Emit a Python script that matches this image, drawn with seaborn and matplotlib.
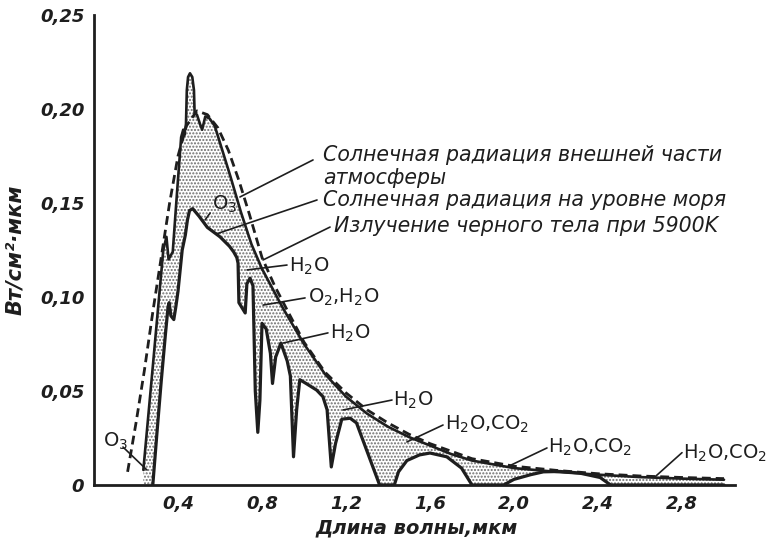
import matplotlib
matplotlib.use("Agg")
import matplotlib.pyplot as plt
import seaborn as sns

# Black-body radiation at 5900 K (dashed), W/cm^2 per micron
bb_wl = [0.16, 0.20, 0.24, 0.28, 0.32, 0.36, 0.40, 0.44, 0.49, 0.54, 0.59, 0.64,
         0.69, 0.74, 0.80, 0.86, 0.92, 1.00, 1.10, 1.20, 1.30, 1.40, 1.50, 1.60,
         1.70, 1.80, 1.90, 2.00, 2.20, 2.40, 2.60, 2.80, 3.00]
bb_val = [0.007, 0.033, 0.061, 0.092, 0.121, 0.150, 0.175, 0.191, 0.199, 0.197,
          0.190, 0.178, 0.162, 0.144, 0.121, 0.106, 0.093, 0.076, 0.060, 0.049,
          0.040, 0.033, 0.027, 0.022, 0.018, 0.014, 0.012, 0.010, 0.0078, 0.006,
          0.0048, 0.0040, 0.0034]

# Solar radiation outside the atmosphere
toa_wl = [0.235, 0.28, 0.33, 0.345, 0.355, 0.375, 0.395, 0.415, 0.425, 0.43,
          0.438, 0.442, 0.448, 0.457, 0.468, 0.476, 0.479, 0.49, 0.505, 0.515,
          0.53, 0.55, 0.575, 0.60, 0.65, 0.70, 0.75, 0.80, 0.90, 1.00, 1.10,
          1.20, 1.30, 1.40, 1.50, 1.60, 1.70, 1.80, 1.90, 2.00, 2.20, 2.40,
          2.60, 2.80, 3.00]
toa_val = [0.008, 0.063, 0.125, 0.132, 0.120, 0.124, 0.155, 0.185, 0.189, 0.186,
           0.192, 0.210, 0.217, 0.219, 0.217, 0.210, 0.198, 0.197, 0.192, 0.189,
           0.196, 0.195, 0.191, 0.182, 0.164, 0.145, 0.128, 0.115, 0.094, 0.075,
           0.059, 0.047, 0.038, 0.031, 0.0255, 0.021, 0.0165, 0.013, 0.011,
           0.009, 0.007, 0.0055, 0.0042, 0.0034, 0.0028]

# Solar radiation at sea level
sea_wl = [0.28, 0.30, 0.32, 0.34, 0.352, 0.358, 0.366, 0.38, 0.39, 0.40, 0.42,
          0.435, 0.445, 0.455, 0.47, 0.50, 0.54, 0.60, 0.645, 0.665, 0.68, 0.686,
          0.69, 0.72, 0.728, 0.743, 0.757, 0.768, 0.78, 0.79, 0.80, 0.82, 0.84,
          0.85, 0.865, 0.89, 0.92, 0.935, 0.95, 0.965, 0.98, 1.01, 1.06, 1.09,
          1.11, 1.13, 1.15, 1.18, 1.22, 1.25, 1.30, 1.35, 1.36, 1.43, 1.45, 1.49,
          1.55, 1.60, 1.68, 1.75, 1.80, 1.95, 2.00, 2.08, 2.14, 2.22, 2.31, 2.41,
          2.46, 3.00]
sea_val = [0.0, 0.028, 0.055, 0.080, 0.094, 0.097, 0.090, 0.088, 0.095, 0.103,
           0.125, 0.133, 0.141, 0.146, 0.147, 0.143, 0.137, 0.132, 0.127, 0.124,
           0.121, 0.118, 0.097, 0.0915, 0.107, 0.110, 0.106, 0.050, 0.028, 0.045,
           0.086, 0.083, 0.070, 0.054, 0.068, 0.0755, 0.066, 0.058, 0.015, 0.040,
           0.056, 0.054, 0.0505, 0.047, 0.040, 0.0096, 0.022, 0.035, 0.0355,
           0.033, 0.018, 0.003, 0.0, 0.0, 0.007, 0.013, 0.016, 0.017, 0.015,
           0.009, 0.0, 0.0, 0.003, 0.0055, 0.007, 0.0072, 0.0064, 0.004, 0.0, 0.0]

x_ticks = [0.2, 0.4, 0.6, 0.8, 1.0, 1.2, 1.4, 1.6, 1.8, 2.0, 2.2, 2.4, 2.6, 2.8, 3.0]
x_tick_labels = ["", "0,4", "", "0,8", "", "1,2", "", "1,6", "", "2,0", "",
                 "2,4", "", "2,8", ""]
y_ticks = [0.0, 0.05, 0.10, 0.15, 0.20, 0.25]
y_tick_labels = ["0", "0,05", "0,10", "0,15", "0,20", "0,25"]

curve_names = ["Солнечная радиация внешней части\nатмосферы",
               "Солнечная радиация на уровне моря",
               "Излучение черного тела при 5900K"]

# absorber labels: text, text position, leader start, leader end
absorbers = [
    ("O$_3$", (0.563, 0.1495), (0.553, 0.1447), (0.529, 0.1410)),
    ("H$_2$O", (0.93, 0.1165), (0.919, 0.117), (0.729, 0.1144)),
    ("O$_2$,H$_2$O", (1.02, 0.100), (1.005, 0.0995), (0.805, 0.0957)),
    ("H$_2$O", (1.125, 0.0809), (1.114, 0.0809), (0.90, 0.0755)),
    ("H$_2$O", (1.425, 0.0452), (1.419, 0.0452), (1.186, 0.0399)),
    ("H$_2$O,CO$_2$", (1.672, 0.0324), (1.662, 0.0319), (1.49, 0.0229)),
    ("H$_2$O,CO$_2$", (2.163, 0.0202), (2.157, 0.0197), (1.967, 0.0096)),
    ("H$_2$O,CO$_2$", (2.806, 0.0168), (2.80, 0.0172), (2.671, 0.0043)),
    ("O$_3$", (0.043, 0.0234), (0.138, 0.0202), (0.252, 0.008)),
]

sns.set_style("white")
plt.rcParams["font.family"] = ["DejaVu Sans"]
plt.rcParams["hatch.linewidth"] = 1.0
plt.rcParams["mathtext.fontset"] = "dejavusans"

fig = plt.figure(figsize=(7.75, 5.41), dpi=100)
ax = fig.add_axes([94 / 775, 56 / 541, 640.5 / 775, 470 / 541])

ink = "#1e1e1e"

# stippled band: absorption between the top-of-atmosphere and sea-level spectra
poly_x = [toa_wl[0]] + toa_wl + sea_wl[::-1]
poly_y = [0.0] + toa_val + sea_val[::-1]
ax.fill(poly_x, poly_y, facecolor="white", edgecolor="#6e6e6e",
        hatch=".....", linewidth=0, zorder=1)

sns.lineplot(x=bb_wl, y=bb_val, ax=ax, color=ink, lw=2.0, estimator=None,
             sort=False, dashes=False, zorder=3).lines[-1].set_dashes([3.2, 1.8])
sns.lineplot(x=toa_wl, y=toa_val, ax=ax, color=ink, lw=1.9, estimator=None,
             sort=False, zorder=4)
sns.lineplot(x=sea_wl, y=sea_val, ax=ax, color=ink, lw=2.3, estimator=None,
             sort=False, zorder=4)

ax.set_xlim(0, 3.05)
ax.set_ylim(0, 0.25)
for side in ("top", "right"):
    ax.spines[side].set_visible(False)
for side in ("left", "bottom"):
    ax.spines[side].set_linewidth(2.0)
    ax.spines[side].set_color(ink)

ax.set_xticks(x_ticks)
ax.set_xticklabels(x_tick_labels)
ax.set_yticks(y_ticks)
ax.set_yticklabels(y_tick_labels)
ax.tick_params(axis="both", direction="in", length=7, width=1.6, color=ink,
               labelcolor=ink, labelsize=13)
ax.tick_params(axis="x", pad=7)
ax.tick_params(axis="y", pad=7)
for lab in ax.get_xticklabels() + ax.get_yticklabels():
    lab.set_fontstyle("italic")
    lab.set_fontweight("bold")

ax.set_ylabel("Вт/см²·мкм", fontsize=15, fontstyle="italic", fontweight="bold",
              color=ink)
ax.yaxis.set_label_coords(-0.108, 0.5)
ax.text(0.504, -0.091, "Длина волны,мкм", transform=ax.transAxes, ha="center",
        va="center", fontsize=14, fontstyle="italic", fontweight="bold", color=ink)

# curve captions with leaders
cap_style = dict(fontsize=14.8, fontstyle="italic", color=ink, va="center",
                 ha="left")
ax.text(1.09, 0.1755, curve_names[0].split("\n")[0], **cap_style)
ax.text(1.09, 0.1635, curve_names[0].split("\n")[1], **cap_style)
ax.text(1.09, 0.1516, curve_names[1], **cap_style)
ax.text(1.145, 0.1375, curve_names[2], **cap_style)
ax.plot([1.043, 0.695], [0.1729, 0.1532], color=ink, lw=1.2, zorder=5)
ax.plot([1.062, 0.581], [0.1516, 0.1335], color=ink, lw=1.2, zorder=5)
ax.plot([1.124, 0.805], [0.1372, 0.1197], color=ink, lw=1.2, zorder=5)

for text, (tx, ty), (x0, y0), (x1, y1) in absorbers:
    ax.text(tx, ty, text, fontsize=14, color=ink, ha="left", va="center")
    ax.plot([x0, x1], [y0, y1], color=ink, lw=1.2, zorder=5)

fig.savefig("out.png", dpi=100)
